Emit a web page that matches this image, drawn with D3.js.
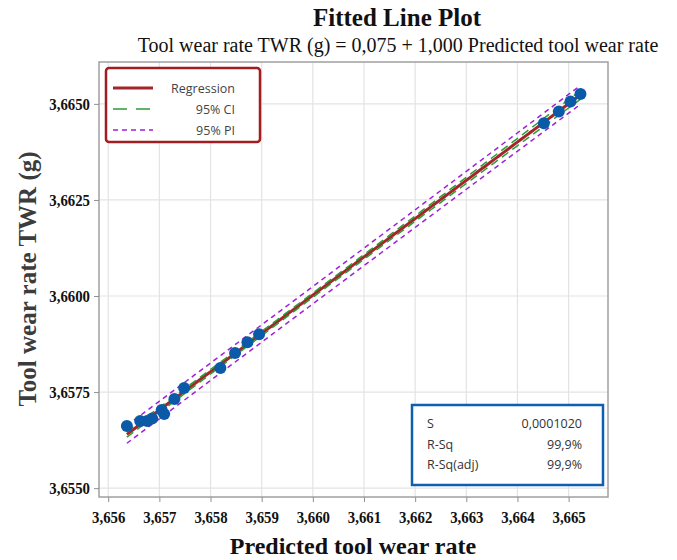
<!DOCTYPE html>
<html><head><meta charset="utf-8">
<script src="https://cdn.jsdelivr.net/npm/d3@7"></script>
<style>body{margin:0;background:#fff}svg{display:block}</style>
</head><body><svg id="c" width="677" height="560"></svg>
<script>
// ---- data ----
const predicted = [3.656365,3.656625,3.656762,3.656859,3.657045,3.657094,3.657295,3.657484,3.658193,3.658480,3.658721,3.658949,3.664516,3.664809,3.665037,3.665232];
const twr       = [3.656615,3.656745,3.656745,3.656810,3.657031,3.656927,3.657318,3.657604,3.658125,3.658516,3.658794,3.659003,3.664497,3.664799,3.665060,3.665260];
const xTicks = [3.656,3.657,3.658,3.659,3.660,3.661,3.662,3.663,3.664,3.665];
const yTicks = [3.6550,3.6575,3.6600,3.6625,3.6650];
const xDomain = [3.65582,3.66577];
const yDomain = [3.65477,3.66609];
const statLabels = ["S","R-Sq","R-Sq(adj)"];
const statValues = ["0,0001020","99,9%","99,9%"];
const sValue = 0.0001020;
const tCrit = 2.145;
const legendLabels = ["Regression","95% CI","95% PI"];
const titleText = "Fitted Line Plot";
const subtitleText = "Tool wear rate TWR (g) = 0,075 + 1,000 Predicted tool wear rate";

// ---- layout ----
const svg = d3.select("#c");
const L=99,R=608,T=62,B=497;
const x = d3.scaleLinear().domain(xDomain).range([L,R]);
const y = d3.scaleLinear().domain(yDomain).range([B,T]);
const loc = d3.formatLocale({decimal:",",thousands:".",grouping:[3],currency:["",""]});
const fx = loc.format(".3f"), fy = loc.format(".4f");

// gridlines
svg.append("g").selectAll("line").data(xTicks).join("line")
  .attr("x1",d=>x(d)).attr("x2",d=>x(d)).attr("y1",T).attr("y2",B)
  .attr("stroke","#e3e3e3").attr("stroke-width",1.2);
svg.append("g").selectAll("line").data(yTicks).join("line")
  .attr("y1",d=>y(d)).attr("y2",d=>y(d)).attr("x1",L).attr("x2",R)
  .attr("stroke","#e3e3e3").attr("stroke-width",1.2);

// regression
const n = predicted.length;
const mx = d3.mean(predicted), my = d3.mean(twr);
let sxy=0,sxx=0;
for(let i=0;i<n;i++){sxy+=(predicted[i]-mx)*(twr[i]-my);sxx+=(predicted[i]-mx)**2;}
const b1 = sxy/sxx, b0 = my-b1*mx;
const xs = d3.range(0,101).map(i=>d3.min(predicted)+(d3.max(predicted)-d3.min(predicted))*i/100);
const fit = v=>b0+b1*v;
const ci = v=>tCrit*sValue*Math.sqrt(1/n+(v-mx)**2/sxx);
const pi = v=>tCrit*sValue*Math.sqrt(1+1/n+(v-mx)**2/sxx);
const line = d3.line().x(d=>x(d[0])).y(d=>y(d[1]));
const plot = svg.append("g");
[[-1,pi],[1,pi]].forEach(([s,f])=>plot.append("path").attr("d",line(xs.map(v=>[v,fit(v)+s*f(v)])))
  .attr("fill","none").attr("stroke","#a020d8").attr("stroke-width",1.5).attr("stroke-dasharray","5,4"));
plot.append("path").attr("d",line(xs.map(v=>[v,fit(v)])))
  .attr("fill","none").attr("stroke","#a3262a").attr("stroke-width",3);
[[-1,ci],[1,ci]].forEach(([s,f])=>plot.append("path").attr("d",line(xs.map(v=>[v,fit(v)+s*f(v)])))
  .attr("fill","none").attr("stroke","#2e9a3a").attr("stroke-width",1.5).attr("stroke-dasharray","8,5"));

// points
plot.selectAll("circle").data(predicted).join("circle")
  .attr("cx",d=>x(d)).attr("cy",(d,i)=>y(twr[i])).attr("r",6).attr("fill","#0a5aa8");

// frame
svg.append("rect").attr("x",L).attr("y",T).attr("width",R-L).attr("height",B-T)
  .attr("fill","none").attr("stroke","#a0a0a0").attr("stroke-width",1.5);

// axes
const serif = "'Liberation Serif','Times New Roman',serif";
const xa = svg.append("g").attr("transform",`translate(0,${B})`)
  .call(d3.axisBottom(x).tickValues(xTicks).tickFormat(fx).tickSize(5).tickSizeOuter(0));
const ya = svg.append("g").attr("transform",`translate(${L},0)`)
  .call(d3.axisLeft(y).tickValues(yTicks).tickFormat(fy).tickSize(5).tickSizeOuter(0));
[xa,ya].forEach(a=>{a.select(".domain").remove();
  a.selectAll(".tick line").attr("stroke","#909090");
  a.selectAll("text").attr("font-family",serif).attr("font-weight","bold").attr("font-size",17).attr("fill","#111");});
xa.selectAll("text").attr("y",0).attr("dy",0).attr("transform","translate(0,26) scale(0.87,1)");
ya.selectAll("text").attr("x",0).attr("dy","0.34em").attr("transform","translate(-9,0) scale(0.87,1)");

// titles
svg.append("text").attr("x",397).attr("y",26).attr("text-anchor","middle")
  .attr("font-family",serif).attr("font-weight","bold").attr("font-size",25).attr("fill","#111").text(titleText);
svg.append("text").attr("x",398).attr("y",52).attr("text-anchor","middle")
  .attr("font-family",serif).attr("font-size",20).attr("fill","#111").text(subtitleText);
svg.append("text").attr("x",353).attr("y",554).attr("text-anchor","middle")
  .attr("font-family",serif).attr("font-weight","bold").attr("font-size",24).attr("fill","#111").text("Predicted tool wear rate");
svg.append("text").attr("transform","translate(36,279) rotate(-90)").attr("text-anchor","middle")
  .attr("font-family",serif).attr("font-weight","bold").attr("font-size",25).attr("fill","#3c3c3c").text("Tool wear rate TWR (g)");

// legend
const sans = "'Open Sans','Noto Sans',sans-serif";
const lg = svg.append("g");
lg.append("rect").attr("x",106).attr("y",68).attr("width",154).attr("height",74).attr("rx",3)
  .attr("fill","#fff").attr("stroke","#a01e22").attr("stroke-width",2.5);
const lstyles=[{c:"#a3262a",w:3,d:null},{c:"#2e9a3a",w:1.5,d:"14,9"},{c:"#a020d8",w:1.5,d:"5,4"}];
legendLabels.forEach((t,i)=>{
  const yy = 88+i*21;
  lg.append("line").attr("x1",113).attr("x2",153).attr("y1",yy).attr("y2",yy)
    .attr("stroke",lstyles[i].c).attr("stroke-width",lstyles[i].w).attr("stroke-dasharray",lstyles[i].d);
  lg.append("text").attr("x",235).attr("y",yy+4.5).attr("text-anchor","end")
    .attr("font-family",sans).attr("font-size",12.5).attr("fill","#444").text(t);
});

// stats box
const sg = svg.append("g");
sg.append("rect").attr("x",412).attr("y",405).attr("width",191).attr("height",80)
  .attr("fill","#fff").attr("stroke","#0e5fb0").attr("stroke-width",2.5);
statLabels.forEach((t,i)=>{
  const yy = 428+i*20.5;
  sg.append("text").attr("x",427).attr("y",yy).attr("font-family",sans).attr("font-size",12.5).attr("fill","#333").text(t);
  sg.append("text").attr("x",582).attr("y",yy).attr("text-anchor","end").attr("font-family",sans).attr("font-size",12.5).attr("fill","#333").text(statValues[i]);
});
</script></body></html>
